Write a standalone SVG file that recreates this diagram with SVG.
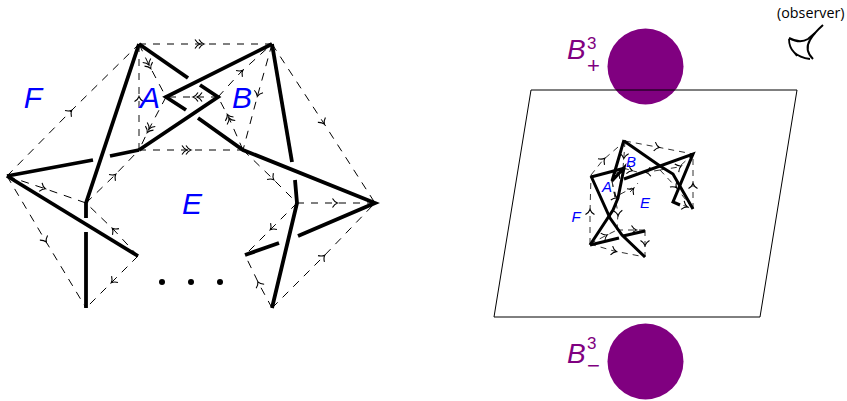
<svg xmlns="http://www.w3.org/2000/svg" width="847" height="401" viewBox="0 0 847 401">
<style>
text{font-family:"Liberation Sans","DejaVu Sans",sans-serif}
.t{fill:none;stroke:#000;stroke-width:3.8;stroke-linejoin:miter;stroke-linecap:butt}
.s{fill:none;stroke:#000;stroke-width:3}
.d{fill:none;stroke:#000;stroke-width:1;stroke-dasharray:8 7}
.g{fill:none;stroke:#555;stroke-width:1.4;stroke-dasharray:7 7}
.ds{fill:none;stroke:#333;stroke-width:1;stroke-dasharray:6 5}
.a{marker-mid:url(#ar)}
.aa{marker-mid:url(#ar2)}
.as{marker-mid:url(#ar)}
.b{fill:#00f;font-style:italic;font-size:30px}
.bs{fill:#00f;font-style:italic;font-size:15px}
.p{fill:#800080}
.pt{fill:#800080;font-size:28px}
.sup{fill:#800080;font-size:17px}
.sub{fill:#800080;font-size:22px}
</style>
<defs>
<marker id="ar" markerUnits="userSpaceOnUse" markerWidth="16" markerHeight="16" refX="8" refY="8" orient="auto" overflow="visible"><path d="M5.500,3.500Q7.500,7 10.500,8Q7.500,9 5.500,12.500" fill="none" stroke="#000" stroke-width="1.100"/></marker>
<marker id="ar2" markerUnits="userSpaceOnUse" markerWidth="18" markerHeight="16" refX="9" refY="8" orient="auto" overflow="visible"><path d="M4,3.500Q6,7 9,8Q6,9 4,12.500M8,3.500Q10,7 13,8Q10,9 8,12.500" fill="none" stroke="#000" stroke-width="1.100"/></marker>
</defs>
<g id="connectors">
<path class="g aa" d="M139,44L200,44L272,44"/>
<path class="g aa" d="M139,150L187,150L243,150"/>
<path class="g a" d="M139,150L139,99L139,44"/>
<path class="g aa" d="M218,97L197,97L166,97"/>
<path class="g a" d="M297,203L335,203L375,203"/>
<path class="d aa" d="M139,44L149,65L166,97"/>
<path class="d aa" d="M166,97L149,129L139,150"/>
<path class="d a" d="M218,97L241,72L272,44"/>
<path class="d a" d="M272,44L258,94L243,150"/>
<path class="d aa" d="M243,150L229,118L218,97"/>
<path class="d a" d="M272,44L323,122L375,203"/>
<path class="d a" d="M7,176L70,112L139,44"/>
<path class="d a" d="M86,203L114,176L139,150"/>
<path class="d a" d="M7,176L43,188L86,203"/>
<path class="d a" d="M7,176L45,240L86,308"/>
<path class="d a" d="M138,256L114,230L86,203"/>
<path class="d a" d="M138,256L113,281L86,308"/>
<path class="d a" d="M243,150L272,178L297,203"/>
<path class="d a" d="M297,203L272,228L245,255"/>
<path class="d a" d="M272,308L259,284L245,255"/>
<path class="d a" d="M272,308L323,257L375,203"/>
</g>
<g id="knot-left">
<path class="t" d="M139,44L188,78"/>
<path class="t" d="M272,44L166,97L186,110"/>
<path class="t" d="M139,150L218,97L200,85"/>
<path class="t" d="M198,118L243,150L375,203L298,236"/>
<path class="t" d="M272,44L292,162"/>
<path class="t" d="M139,44L86,203L86,218"/>
<path class="t" d="M86,232L86,308"/>
<path class="t" d="M7,176L93,160"/>
<path class="t" d="M110,156L139,150"/>
<path class="t" d="M7,176L138,256"/>
<path class="t" d="M295,180L297,203L272,308"/>
<path class="t" d="M279,243L245,255"/>
</g>
<g id="dots"><circle cx="162" cy="282" r="3"/><circle cx="191" cy="282" r="3"/><circle cx="220" cy="282" r="3"/></g>
<g id="labels-left">
<text class="b" x="33" y="108" text-anchor="middle">F</text>
<text class="b" x="150" y="108" text-anchor="middle">A</text>
<text class="b" x="242" y="108" text-anchor="middle">B</text>
<text class="b" x="192" y="214" text-anchor="middle">E</text>
</g>
<g id="ball-plus"><circle class="p" cx="645.500" cy="66.500" r="38"/>
<text class="pt" x="567" y="59" font-style="italic">B</text>
<text class="sup" x="587" y="49">3</text>
<text class="sub" x="587" y="73">+</text></g>
<g id="ball-minus"><circle class="p" cx="645.500" cy="361.500" r="38"/>
<text class="pt" x="567" y="363" font-style="italic">B</text>
<text class="sup" x="587" y="349">3</text>
<text class="sub" x="587" y="373">−</text></g>
<g id="plane"><path d="M531,90L797,90L760,317L494,317Z" fill="none" stroke="#000" stroke-width="1"/></g>
<g id="knot-right-connectors">
<path class="ds as" d="M591,175L603,160L625,141"/>
<path class="ds as" d="M625,141L657,147L693,154"/>
<path class="ds as" d="M693,209L693,186L693,154"/>
<path class="ds as" d="M590,244L590,212L591,175"/>
<path class="ds as" d="M590,244L614,251L645,257"/>
<path class="ds as" d="M645,230L645,243L645,257"/>
<path class="ds as" d="M617,230L634,230L645,230"/>
<path class="ds as" d="M612,181L618,213L617,230"/>
<path class="ds as" d="M625,141L624,156L623,168"/>
<path class="ds as" d="M612,181L618,174L623,168"/>
<path class="ds as" d="M623,168L630,170L637,172"/>
<path class="ds as" d="M612,181L615,197L632,188"/>
<path class="ds as" d="M630,192L632,190L638,183"/>
<path class="ds as" d="M660,170L675,186L693,209"/>
<path class="ds as" d="M673,202L685,206L693,209"/>
<path class="ds as" d="M660,170L679,167L693,154"/>
<path class="ds as" d="M660,170L648,172L640,172"/>
<path class="ds as" d="M590,244L605,236L617,230"/>
</g>
<g id="knot-right">
<path class="s" d="M624,140L612,181L624,168L618,198L613,210L590,245"/>
<path class="s" d="M591,177L625,168"/>
<path class="s" d="M590,245L619,238"/>
<path class="s" d="M623,236L645,231"/>
<path class="s" d="M591,176L610,218L622,235L645,257"/>
<path class="s" d="M624,141L660,166L673,174L693,209"/>
<path class="s" d="M624,179L693,154L673,202L680,205"/>
</g>
<g id="labels-right">
<text class="bs" x="607" y="192" text-anchor="middle">A</text>
<text class="bs" x="631" y="167" text-anchor="middle">B</text>
<text class="bs" x="645" y="208" text-anchor="middle">E</text>
<text class="bs" x="576" y="222" text-anchor="middle">F</text>
</g>
<g id="observer">
<text x="777" y="18" font-size="14.300" fill="#000" style="font-family:'Open Sans','DejaVu Sans',sans-serif">(observer)</text>
<path d="M823,25Q814,33 810,40Q804,50 813,59" fill="none" stroke="#000" stroke-width="2"/>
<path d="M789,38Q800,44 808,39L815,33" fill="none" stroke="#000" stroke-width="2"/>
<path d="M789,39Q789,56 810,59M793,51L797,56" fill="none" stroke="#000" stroke-width="1.800"/>
</g>
</svg>
